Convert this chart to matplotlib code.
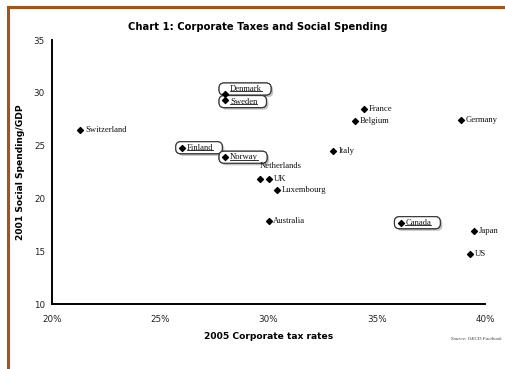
import matplotlib
matplotlib.use("Agg")
import matplotlib.pyplot as plt
from matplotlib.patches import FancyBboxPatch
from matplotlib.lines import Line2D
from matplotlib.transforms import IdentityTransform
import matplotlib.patheffects as pe

# Data: 2005 corporate tax rate (%) vs 2001 social spending (% of GDP)
countries = ["Switzerland", "Denmark", "Sweden", "Finland", "Norway", "Netherlands",
             "UK", "Luxembourg", "Australia", "Italy", "Belgium", "France",
             "Germany", "Canada", "Japan", "US"]
tax_rate = [21.3, 28.0, 28.0, 26.0, 28.0, 29.6, 30.0, 30.4, 30.0, 33.0, 34.0, 34.4,
            38.9, 36.1, 39.5, 39.3]
social_spending = [26.5, 29.9, 29.3, 24.8, 23.9, 21.8, 21.8, 20.8, 17.9, 24.5, 27.3, 28.5,
                   27.4, 17.7, 16.9, 14.7]
boxed = ["Denmark", "Sweden", "Finland", "Norway", "Canada"]

W, H = 506, 369
fig = plt.figure(figsize=(W / 100, H / 100), dpi=100)
fig.patch.set_facecolor("white")

# brown frame on top and left
frame_col = "#A5521B"
fig.add_artist(Line2D([8 / W, 8 / W], [0, 1 - 7 / H], color=frame_col, lw=2.2,
                      transform=fig.transFigure))
fig.add_artist(Line2D([8 / W, 1], [1 - 7 / H, 1 - 7 / H], color=frame_col, lw=2.2,
                      transform=fig.transFigure))

ax = fig.add_axes([52 / W, 1 - 304 / H, (485 - 52) / W, (304 - 40) / H])
ax.set_xlim(20, 40)
ax.set_ylim(10, 35)
ax.set_xticks([20, 25, 30, 35, 40])
ax.set_xticklabels(["20%", "25%", "30%", "35%", "40%"])
ax.set_yticks([10, 15, 20, 25, 30, 35])
for s in ["top", "right"]:
    ax.spines[s].set_visible(False)
for s in ["left", "bottom"]:
    ax.spines[s].set_linewidth(1.4)
ax.tick_params(length=0, labelsize=6.3, colors="#222222")
ax.tick_params(axis="y", pad=5)
ax.tick_params(axis="x", pad=8)

ax.scatter(tax_rate, social_spending, marker="D", s=9, color="black", zorder=5)

ax.set_xlabel("2005 Corporate tax rates", fontsize=6.6, fontweight="bold", labelpad=6)
ax.set_ylabel("2001 Social Spending/GDP", fontsize=6.6, fontweight="bold", labelpad=6)
fig.text(258 / W, 1 - 27 / H, "Chart 1: Corporate Taxes and Social Spending",
         ha="center", va="center", fontsize=7.2, fontweight="bold")
fig.text(502 / W, 1 - 339 / H, "Source: OECD Factbook", ha="right", va="center",
         fontsize=3.6, style="italic", family="Liberation Serif", color="#333333")

labels = {}
for name, x, y in zip(countries, tax_rate, social_spending):
    off = (3.5, 0)
    if name == "Netherlands":
        off = (0, 10)
    elif name == "Denmark":
        off = (3.5, 3.5)
    elif name == "Sweden":
        off = (3.5, -1)
    t = ax.annotate(name, (x, y), xytext=off, textcoords="offset points",
                    ha="left", va="center", fontsize=6.2, family="Liberation Serif",
                    color="#111111", zorder=6)
    labels[name] = t

fig.canvas.draw()
r = fig.canvas.get_renderer()
for i, name in enumerate(boxed):
    bb = labels[name].get_window_extent(r)
    # underline under the label
    ul = Line2D([bb.x0, bb.x1], [bb.y0 + 1.5, bb.y0 + 1.5], color="#111111",
                lw=0.6, transform=IdentityTransform(), zorder=6)
    ul.set_clip_on(False)
    ax.add_artist(ul)
    box = FancyBboxPatch((bb.x0 - 11, bb.y0 - 2), bb.width + 20, bb.height + 4,
                         boxstyle="round,pad=0,rounding_size=5", facecolor="white",
                         edgecolor="#333333", lw=0.8, transform=IdentityTransform(),
                         zorder=1 + i * 0.1)
    box.set_clip_on(False)
    box.set_path_effects([pe.withSimplePatchShadow(offset=(1.5, -1.5),
                                                   shadow_rgbFace="#999999", alpha=0.6),
                          pe.Normal()])
    ax.add_artist(box)

fig.savefig("out.png", dpi=100)
